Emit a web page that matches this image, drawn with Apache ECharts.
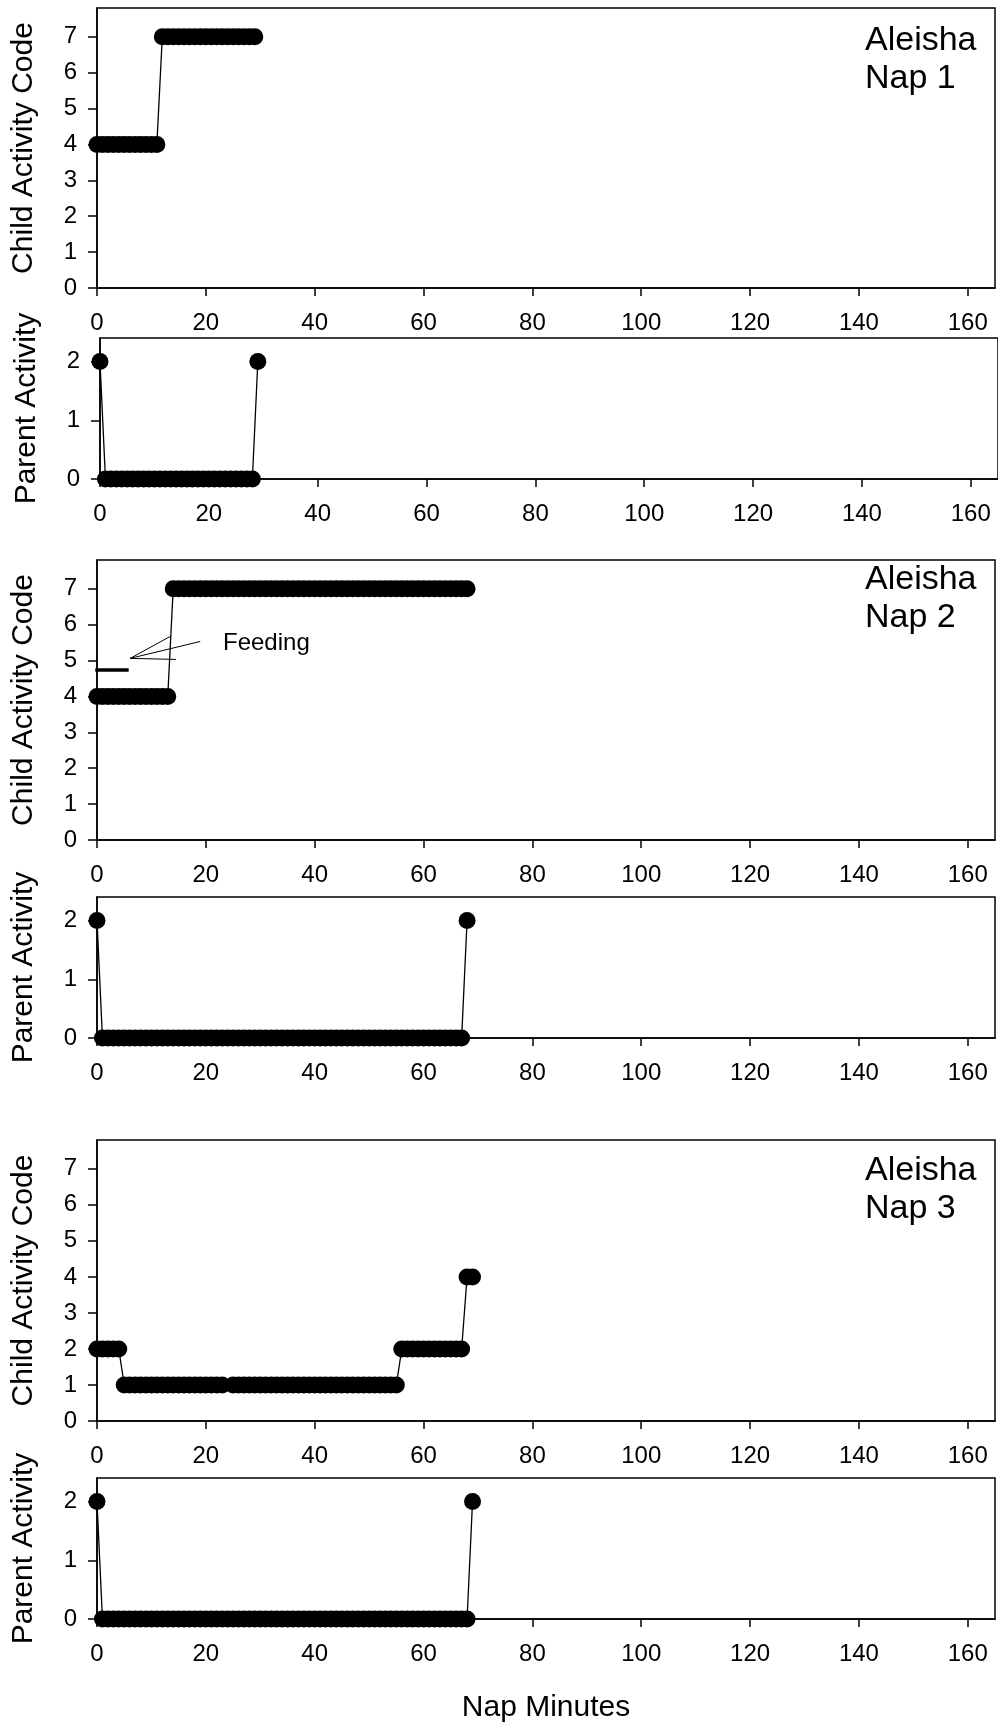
<!DOCTYPE html>
<html>
<head>
<meta charset="utf-8">
<script src="https://cdn.jsdelivr.net/npm/echarts@6/dist/echarts.min.js"></script>
<style>
  html, body { margin: 0; padding: 0; background: #fff; }
  #main { width: 998px; height: 1726px; }
</style>
</head>
<body>
<div id="main"></div>
<script>
// x = minute index, value = activity code
var child_nap1 = [4,4,4,4,4,4,4,4,4,4,4,4,7,7,7,7,7,7,7,7,7,7,7,7,7,7,7,7,7,7];
var parent_nap1 = [2,0,0,0,0,0,0,0,0,0,0,0,0,0,0,0,0,0,0,0,0,0,0,0,0,0,0,0,0,2];

var child_nap2 = [4,4,4,4,4,4,4,4,4,4,4,4,4,4,
  7,7,7,7,7,7,7,7,7,7,7,7,7,7,7,7,7,7,7,7,7,7,7,7,7,7,7,7,7,7,
  7,7,7,7,7,7,7,7,7,7,7,7,7,7,7,7,7,7,7,7,7,7,7,7,7];
var parent_nap2 = [2,0,0,0,0,0,0,0,0,0,0,0,0,0,0,0,0,0,0,0,0,0,0,0,0,0,0,0,0,0,0,0,0,0,
  0,0,0,0,0,0,0,0,0,0,0,0,0,0,0,0,0,0,0,0,0,0,0,0,0,0,0,0,0,0,0,0,0,0,2];

var child_nap3 = [2,2,2,2,2,1,1,1,1,1,1,1,1,1,1,1,1,1,1,1,1,1,1,1,null,
  1,1,1,1,1,1,1,1,1,1,1,1,1,1,1,1,1,1,1,1,1,1,1,1,1,1,1,1,1,1,1,
  2,2,2,2,2,2,2,2,2,2,2,2,4,4];
var parent_nap3 = [2,0,0,0,0,0,0,0,0,0,0,0,0,0,0,0,0,0,0,0,0,0,0,0,0,0,0,0,0,0,0,0,0,0,0,
  0,0,0,0,0,0,0,0,0,0,0,0,0,0,0,0,0,0,0,0,0,0,0,0,0,0,0,0,0,0,0,0,0,0,2];

var x_ticks = [0,20,40,60,80,100,120,140,160];
var child_ticks = [0,1,2,3,4,5,6,7];
var parent_ticks = [0,1,2];
var nap_labels = ['Aleisha\nNap 1', 'Aleisha\nNap 2', 'Aleisha\nNap 3'];

// feeding mark on nap 2 (minutes, code)
var feeding_bar = [[0, 4.75], [5.5, 4.75]];
var feeding_vertex = [6.1, 5.06];
var feeding_ends = [[13.45, 5.67], [18.96, 5.53], [14.5, 5.03]];

function toPairs(arr) {
  var out = [];
  for (var i = 0; i < arr.length; i++) {
    if (arr[i] !== null) out.push([i, arr[i]]);
  }
  return out;
}

var FONT = "'Liberation Sans', Arial, sans-serif";
var chartDom = document.getElementById('main');
var myChart = echarts.init(chartDom);

var grids = [
  { left: 97, top: 8, width: 898, height: 280 },
  { left: 100, top: 338, width: 899, height: 141 },
  { left: 97, top: 560, width: 898, height: 280 },
  { left: 97, top: 897, width: 898, height: 141 },
  { left: 97, top: 1140, width: 898, height: 281 },
  { left: 97, top: 1478, width: 898, height: 141 }
];
grids.forEach(function (g) {
  g.show = true;
  g.borderColor = '#000';
  g.borderWidth = 1.5;
  g.containLabel = false;
});

var xAxes = [], yAxes = [];
for (var k = 0; k < 6; k++) {
  var isChild = k % 2 === 0;
  xAxes.push({
    type: 'value', gridIndex: k, min: 0, max: 165,
    axisLine: { show: true, onZero: false, lineStyle: { color: '#000', width: 1.5 } },
    axisTick: { show: true, inside: false, length: 8, customValues: x_ticks, lineStyle: { color: '#000', width: 1.5 } },
    axisLabel: { customValues: x_ticks, color: '#000', fontSize: 24, fontFamily: FONT, margin: 23 },
    splitLine: { show: false },
    name: k === 5 ? 'Nap Minutes' : '',
    nameLocation: 'middle',
    nameGap: 74,
    nameTextStyle: { color: '#000', fontSize: 30, fontFamily: FONT }
  });
  yAxes.push({
    type: 'value', gridIndex: k, min: 0, max: isChild ? 7.8 : 2.4, interval: 1,
    axisLine: { show: true, onZero: false, lineStyle: { color: '#000', width: 1.5 } },
    axisTick: { show: true, inside: false, length: 9, customValues: isChild ? child_ticks : parent_ticks, lineStyle: { color: '#000', width: 1.5 } },
    axisLabel: { customValues: isChild ? child_ticks : parent_ticks, color: '#000', fontSize: 24, fontFamily: FONT, margin: 20 },
    splitLine: { show: false },
    name: isChild ? 'Child Activity Code' : 'Parent Activity',
    nameLocation: 'middle',
    nameGap: 58,
    nameTextStyle: { color: '#000', fontSize: 30, fontFamily: FONT }
  });
}

var datasets = [child_nap1, parent_nap1, child_nap2, parent_nap2, child_nap3, parent_nap3];
var series = [];
for (var s = 0; s < datasets.length; s++) {
  series.push({
    type: 'line',
    xAxisIndex: s, yAxisIndex: s,
    data: toPairs(datasets[s]),
    connectNulls: true,
    clip: false,
    symbol: 'circle',
    symbolSize: 17,
    itemStyle: { color: '#000' },
    lineStyle: { color: '#000', width: 1.3 },
    silent: true
  });
}

// feeding annotation
var leaderLines = [];
for (var j = 0; j < feeding_ends.length; j++) {
  leaderLines.push([{ coord: feeding_vertex }, { coord: feeding_ends[j] }]);
}
leaderLines.push([
  { coord: feeding_bar[0], lineStyle: { width: 3.5, cap: 'square' } },
  { coord: feeding_bar[1] }
]);
series[2].markLine = {
  silent: true,
  symbol: ['none', 'none'],
  label: { show: false },
  lineStyle: { color: '#000', width: 1, type: 'solid' },
  data: leaderLines
};

var titleTops = [22, 561, 1152];
var titles = [];
for (var t = 0; t < nap_labels.length; t++) {
  titles.push({
    text: nap_labels[t], left: 865, top: titleTops[t], padding: 0,
    textStyle: { color: '#000', fontSize: 34, lineHeight: 38, fontWeight: 'normal', fontFamily: FONT }
  });
}
titles.push({
  text: 'Feeding', left: 223, top: 630, padding: 0,
  textStyle: { color: '#000', fontSize: 24, lineHeight: 27, fontWeight: 'normal', fontFamily: FONT }
});

var option = {
  animation: false,
  backgroundColor: '#fff',
  title: titles,
  grid: grids,
  xAxis: xAxes,
  yAxis: yAxes,
  series: series
};
option && myChart.setOption(option);
</script>
</body>
</html>
